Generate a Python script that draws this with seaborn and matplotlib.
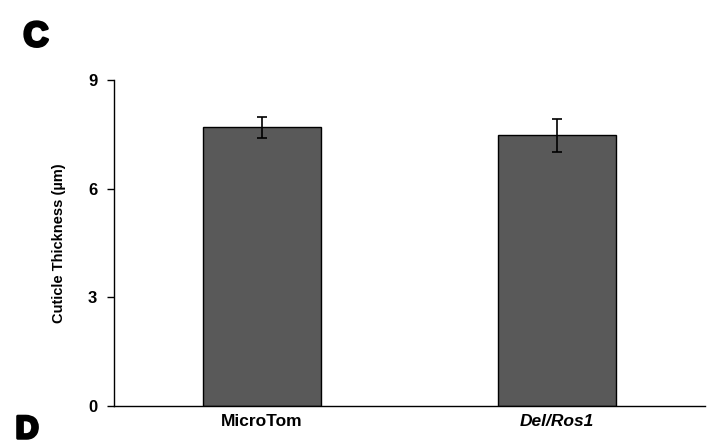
import matplotlib
matplotlib.use("Agg")
import pandas as pd
import seaborn as sns
import matplotlib.pyplot as plt
import matplotlib.patheffects as pe
from matplotlib.ticker import FixedLocator

# data
genotypes = ["MicroTom", "Del/Ros1"]
thickness = [7.70, 7.47]
sem = [0.29, 0.46]

sns.set_style("white")
plt.rcParams['font.family'] = ['Liberation Sans', 'DejaVu Sans']
plt.rcParams['text.color'] = 'black'
plt.rcParams['axes.labelcolor'] = 'black'
plt.rcParams['xtick.color'] = 'black'
plt.rcParams['ytick.color'] = 'black'

df = pd.DataFrame({"genotype": genotypes, "thickness": thickness})

fig = plt.figure(figsize=(7.1, 4.47), dpi=100)
ax = fig.add_axes([0.1606, 0.0917, 0.8324, 0.7293])

sns.barplot(data=df, x="genotype", y="thickness", color="#595959",
            saturation=1, width=0.4, edgecolor="black", linewidth=1,
            errorbar=None, ax=ax)
ax.errorbar(range(len(genotypes)), thickness, yerr=sem, fmt="none",
            ecolor="black", elinewidth=1.2, capsize=3.5, capthick=1.2)

ax.set_xlim(-0.5, 1.5)
ax.set_ylim(0, 9)
ax.set_yticks([0, 3, 6, 9])
ax.set_yticklabels(["0", "3", "6", "9"], fontsize=12, fontweight="bold")
ax.set_xticks([0, 1])
ax.set_xticklabels(genotypes, fontsize=12.5, fontweight="bold")
ax.get_xticklabels()[1].set_style("italic")
ax.xaxis.set_minor_locator(FixedLocator([-0.5, 0.5, 1.5]))
ax.tick_params(axis="x", which="major", length=0, pad=6)
ax.tick_params(axis="x", which="minor", length=5, width=1, direction="out")
ax.tick_params(axis="y", length=5, width=1, direction="out", pad=7, left=True)
ax.set_xlabel("")
ax.set_ylabel("Cuticle Thickness (µm)", fontsize=10.5, fontweight="bold", labelpad=16)

for s in ["top", "right"]:
    ax.spines[s].set_visible(False)
for s in ["left", "bottom"]:
    ax.spines[s].set_color("black")
    ax.spines[s].set_linewidth(1)

heavy = [pe.withStroke(linewidth=2.2, foreground="black")]
fig.text(0.033, 0.955, "C", fontsize=25, fontweight="bold", color="black",
         va="top", ha="left", path_effects=heavy)
fig.text(0.022, 0.004, "D", fontsize=23, fontweight="bold", color="black",
         va="bottom", ha="left", path_effects=heavy)

fig.savefig("out.png", dpi=100)
